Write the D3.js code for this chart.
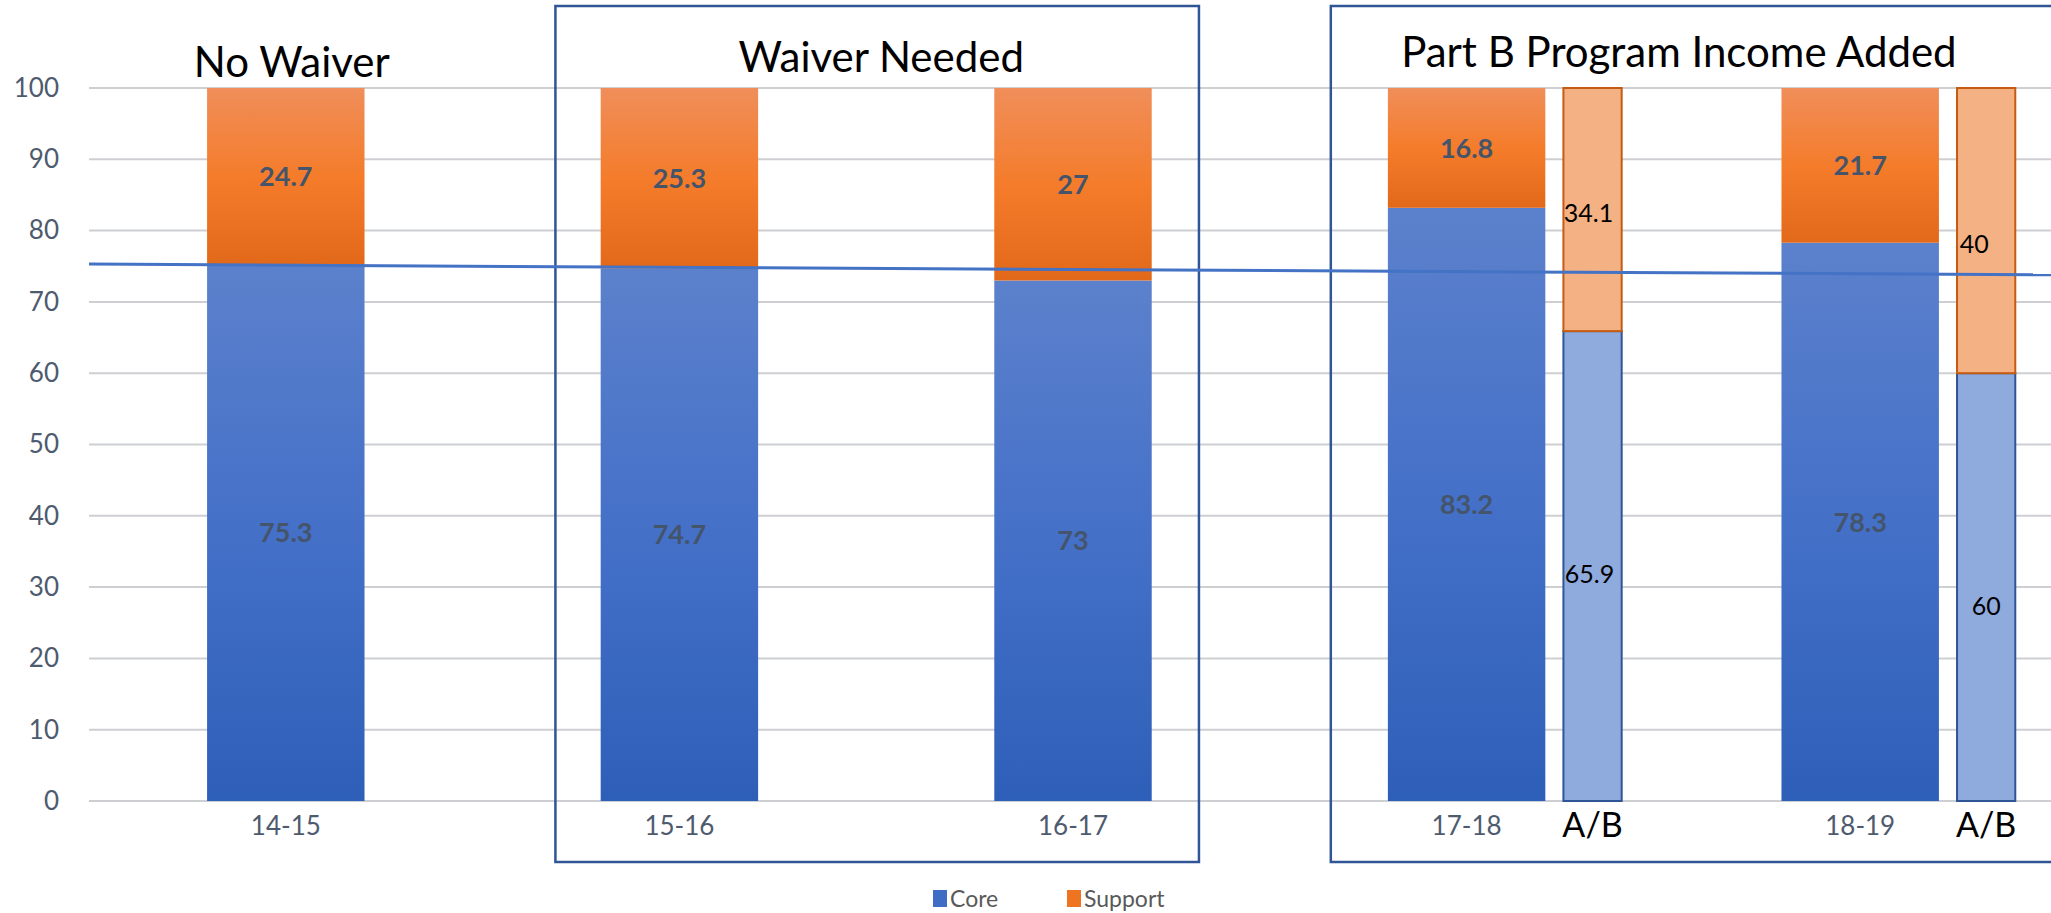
<!DOCTYPE html>
<html>
<head>
<meta charset="utf-8">
<script src="https://cdn.jsdelivr.net/npm/d3@7"></script>
<style>
  html, body { margin: 0; padding: 0; background: #fff; }
  text { font-family: Lato, 'Open Sans', sans-serif; }
</style>
</head>
<body>
<div class="wrapper"></div>
<script>
// chart values
const years = ['14-15', '15-16', '16-17', '17-18', '18-19']
const core = [75.3, 74.7, 73, 83.2, 78.3]
const support = [24.7, 25.3, 27, 16.8, 21.7]

// the extra A/B bars
const abYears = ['17-18', '18-19']
const abCore = [65.9, 60]
const abSupport = [34.1, 40]

const yTicks = [0, 10, 20, 30, 40, 50, 60, 70, 80, 90, 100]

// hand drawn reference line, value at left and right end
const refLine = [75.3, 73.8]

const groupTitles = ['No Waiver', 'Waiver Needed', 'Part B Program Income Added']
const groupFirst = ['14-15', '15-16', '17-18']
const groupLast = ['14-15', '16-17', '18-19']
const groupBoxed = [false, true, true]

const legendNames = ['Core', 'Support']

const width = 2051,
  height = 913
const margin = { top: 88, right: -6, bottom: 112, left: 89 }
const titleBaseline = [77, 72, 67]
const titleShift = [6, 4, -12]
// box padding around the group, as share of band step [left, right]
const boxPad = [[0, 0], [0.315, 0.32], [0.345, 0.52]]
// label nudges for the A/B bars [dx, dy] in px: core then support, per bar
const abNudge = [[[-3, 8], [-4, 3]], [[0, 19], [-12, 13]]]

const svg = d3.select('.wrapper')
  .append('svg')
  .attr('width', width)
  .attr('height', height)

const defs = svg.append('defs')

function gradient(id, stops) {
  const g = defs.append('linearGradient')
    .attr('id', id)
    .attr('x1', 0).attr('y1', 0)
    .attr('x2', 0).attr('y2', 1)
  stops.forEach(s => g.append('stop').attr('offset', s[0]).attr('stop-color', s[1]))
}
gradient('gradOrange', [[0, '#f08e5a'], [0.5, '#f47c2b'], [1, '#e3691a']])
gradient('gradBlue', [[0, '#5c81cc'], [0.5, '#4470c8'], [1, '#2e5fb8']])

const x = d3.scaleBand()
  .domain(years)
  .range([margin.left, width - margin.right])
  .paddingInner(0.6)
  .paddingOuter(0.3)

const y = d3.scaleLinear()
  .domain([0, 100])
  .range([height - margin.bottom, margin.top])

const step = x.step()
const bw = x.bandwidth()
const abOffset = 0.32 * step
const abWidth = 0.148 * step
const center = d => x(d) + bw / 2

// gridlines
svg.append('g')
  .selectAll('line')
  .data(yTicks)
  .join('line')
  .attr('x1', margin.left)
  .attr('x2', width)
  .attr('y1', d => y(d))
  .attr('y2', d => y(d))
  .attr('stroke', '#cdcfd3')
  .attr('stroke-width', 2)

// y axis labels
const yAxis = svg.append('g')
  .attr('transform', `translate(${margin.left - 30}, 0)`)
  .call(d3.axisLeft(y).tickValues(yTicks).tickSize(0).tickPadding(0))
yAxis.select('.domain').remove()
yAxis.selectAll('text')
  .attr('fill', '#4e5b6e')
  .style('font-size', '26px')
  .attr('font-family', null)

// group boxes
groupTitles.forEach((t, i) => {
  const left = center(groupFirst[i]) - boxPad[i][0] * step
  const right = center(groupLast[i]) + boxPad[i][1] * step
  if (groupBoxed[i]) {
    svg.append('rect')
      .attr('x', left)
      .attr('y', 6)
      .attr('width', right - left)
      .attr('height', 856)
      .attr('fill', 'none')
      .attr('stroke', '#2f5597')
      .attr('stroke-width', 2.5)
  }
  const cx = groupBoxed[i]
    ? (left + Math.min(right, width)) / 2
    : center(groupFirst[i])
  svg.append('text')
    .attr('x', cx + titleShift[i])
    .attr('y', titleBaseline[i])
    .attr('text-anchor', 'middle')
    .style('font-size', '42px')
    .attr('fill', '#000')
    .text(t)
})

// stacked main bars
const rows = years.map((yr, i) => ({ yr, core: core[i], support: support[i] }))

const bars = svg.append('g')
bars.selectAll('rect.core')
  .data(rows)
  .join('rect')
  .attr('class', 'core')
  .attr('x', d => x(d.yr))
  .attr('width', bw)
  .attr('y', d => y(d.core))
  .attr('height', d => y(0) - y(d.core))
  .attr('fill', 'url(#gradBlue)')

bars.selectAll('rect.support')
  .data(rows)
  .join('rect')
  .attr('class', 'support')
  .attr('x', d => x(d.yr))
  .attr('width', bw)
  .attr('y', d => y(d.core + d.support))
  .attr('height', d => y(d.core) - y(d.core + d.support))
  .attr('fill', 'url(#gradOrange)')

// main bar labels
const labelRows = rows.flatMap(d => [
  { yr: d.yr, v: d.core, mid: d.core / 2 },
  { yr: d.yr, v: d.support, mid: d.core + d.support / 2 },
])
bars.selectAll('text')
  .data(labelRows)
  .join('text')
  .attr('x', d => center(d.yr))
  .attr('y', d => y(d.mid))
  .attr('dy', '0.36em')
  .attr('text-anchor', 'middle')
  .style('font-size', '27px')
  .style('font-weight', 'bold')
  .attr('fill', '#44546a')
  .text(d => d.v)

// A/B bars
const abRows = abYears.map((yr, i) => ({ yr, core: abCore[i], support: abSupport[i] }))
const ab = svg.append('g')
const abX = d => center(d.yr) + abOffset - abWidth / 2

ab.selectAll('rect.abcore')
  .data(abRows)
  .join('rect')
  .attr('class', 'abcore')
  .attr('x', abX)
  .attr('width', abWidth)
  .attr('y', d => y(d.core))
  .attr('height', d => y(0) - y(d.core))
  .attr('fill', '#8faadc')
  .attr('stroke', '#2f5597')
  .attr('stroke-width', 2)

ab.selectAll('rect.absupport')
  .data(abRows)
  .join('rect')
  .attr('class', 'absupport')
  .attr('x', abX)
  .attr('width', abWidth)
  .attr('y', d => y(d.core + d.support))
  .attr('height', d => y(d.core) - y(d.core + d.support))
  .attr('fill', '#f4b183')
  .attr('stroke', '#c55a11')
  .attr('stroke-width', 2)

const abLabels = abRows.flatMap((d, i) => [
  { yr: d.yr, v: d.core, mid: d.core / 2, n: abNudge[i][0] },
  { yr: d.yr, v: d.support, mid: d.core + d.support / 2, n: abNudge[i][1] },
])
ab.selectAll('text.abval')
  .data(abLabels)
  .join('text')
  .attr('class', 'abval')
  .attr('x', d => center(d.yr) + abOffset + d.n[0])
  .attr('y', d => y(d.mid) + d.n[1])
  .attr('dy', '0.36em')
  .attr('text-anchor', 'middle')
  .style('font-size', '25px')
  .attr('fill', '#000')
  .text(d => d.v)

ab.selectAll('text.abname')
  .data(abRows)
  .join('text')
  .attr('class', 'abname')
  .attr('x', d => center(d.yr) + abOffset)
  .attr('y', y(0) + 36)
  .attr('text-anchor', 'middle')
  .style('font-size', '34px')
  .attr('fill', '#000')
  .text('A/B')

// x axis labels
const xAxis = svg.append('g')
  .attr('transform', `translate(0, ${y(0) + 29})`)
  .call(d3.axisBottom(x).tickSize(0).tickPadding(0))
xAxis.select('.domain').remove()
xAxis.selectAll('text')
  .attr('fill', '#4e5b6e')
  .attr('dy', '0.2em')
  .style('font-size', '26px')
  .attr('font-family', null)

// reference line across the plot
const xLine = d3.scaleLinear()
  .domain([0, refLine.length - 1])
  .range([margin.left, width])
svg.append('path')
  .datum(refLine)
  .attr('fill', 'none')
  .attr('stroke', '#4472c4')
  .attr('stroke-width', 3)
  .attr('d', d3.line().x((d, i) => xLine(i)).y(d => y(d)))

// legend
const legendColors = ['#3f6cc4', '#ef7422']
const legend = svg.append('g')
  .attr('transform', 'translate(933, 899)')
const legendItem = legend.selectAll('g')
  .data(legendNames)
  .join('g')
  .attr('transform', (d, i) => `translate(${i * 134}, 0)`)
legendItem.append('rect')
  .attr('x', 0)
  .attr('y', -9)
  .attr('width', 14)
  .attr('height', 17)
  .attr('fill', (d, i) => legendColors[i])
legendItem.append('text')
  .attr('x', 17)
  .attr('dy', '0.36em')
  .style('font-size', '23px')
  .attr('fill', '#595959')
  .text(d => d)
</script>
</body>
</html>
